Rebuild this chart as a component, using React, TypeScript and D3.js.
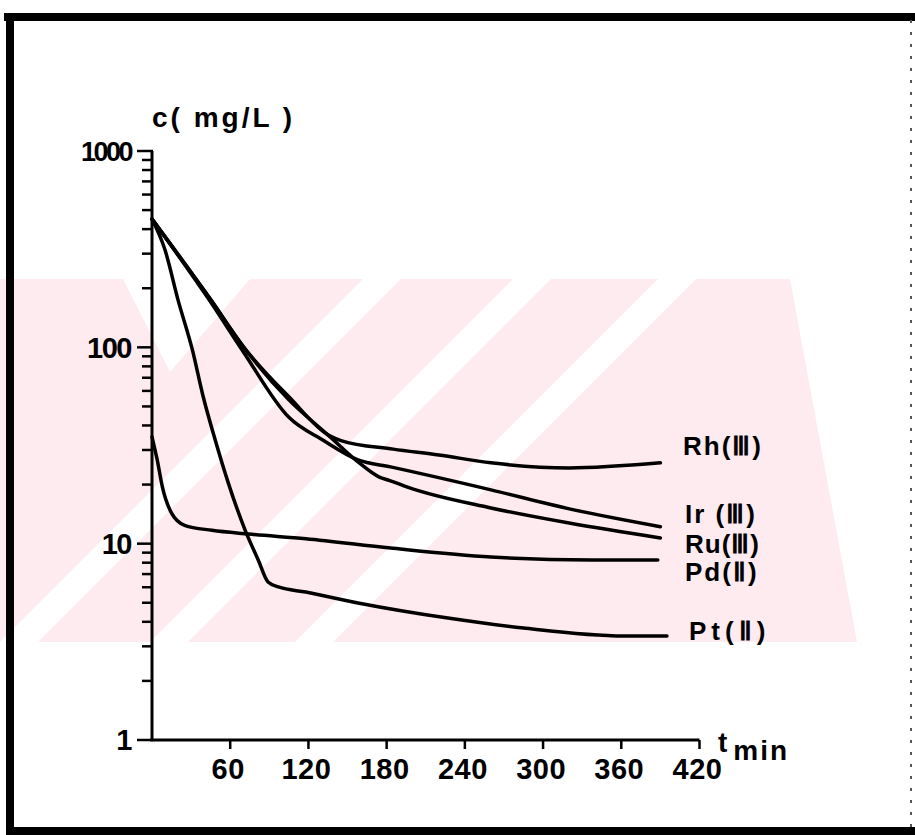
import React from 'react';
import * as d3 from 'd3';

const W = 915;
const H = 835;

// x axis (time, min)
const xTicks = [60, 120, 180, 240, 300, 360, 420];
// y axis (concentration, mg/L, log scale)
const yMajor = [1, 10, 100, 1000];
const yDecades = [1, 10, 100];

// series (t in min, c in mg/L)
const rhT = [0, 45, 70, 105, 136, 145, 185, 220, 260, 320, 390];
const rhC = [450, 175, 101, 56, 35.5, 33.5, 30.3, 28.3, 25.8, 24.3, 25.8];

const irT = [0, 45, 70, 105, 131, 158, 183, 260, 321, 390];
const irC = [450, 170, 95, 44, 33.7, 26.7, 24.6, 18.8, 15.0, 12.2];

const ruT = [0, 45, 70, 105, 135, 158, 174, 183, 196, 260, 321, 390];
const ruC = [450, 175, 101, 54, 35.8, 26.1, 21.9, 20.9, 19.4, 15.2, 12.7, 10.7];

const pdT = [0, 4, 8, 15, 25, 46, 74, 118, 183, 260, 337, 388];
const pdC = [35, 26.7, 19.4, 14.3, 12.4, 11.7, 11.2, 10.6, 9.5, 8.55, 8.26, 8.26];

const ptT = [0, 10, 20, 31, 39, 48.5, 58.5, 71.5, 81.5, 89, 97, 118, 158, 227, 285, 362, 395];
const ptC = [450, 313, 174, 97, 57, 33.7, 20.4, 11.7, 8.26, 6.38, 6.02, 5.67, 4.99, 4.18, 3.72, 3.39, 3.39];

const seriesNames = ['Rh(Ⅲ)', 'Ir (Ⅲ)', 'Ru(Ⅲ)', 'Pd(Ⅱ)', 'Pt(Ⅱ)'];

const FONT = "'Liberation Sans', Arial, sans-serif";
const PINK = '#fdebef';

export default function App() {
  const x = d3.scaleLinear().domain([0, 420]).range([152, 699.5]);
  const y = d3.scaleLog().domain([1, 1000]).range([740, 151]);

  const line = d3
    .line<[number, number]>()
    .x((d) => x(d[0]))
    .y((d) => y(d[1]))
    .curve(d3.curveMonotoneX);

  const series = [
    { name: seriesNames[0], t: rhT, c: rhC, lx: 683, ly: 455, ls: 2 },
    { name: seriesNames[1], t: irT, c: irC, lx: 685, ly: 523, ls: 2 },
    { name: seriesNames[2], t: ruT, c: ruC, lx: 685, ly: 553, ls: 1 },
    { name: seriesNames[3], t: pdT, c: pdC, lx: 685, ly: 581, ls: 2 },
    { name: seriesNames[4], t: ptT, c: ptC, lx: 689, ly: 640, ls: 5 },
  ];

  const minor: number[] = [];
  yDecades.forEach((d) => {
    for (let k = 2; k <= 9; k++) minor.push(k * d);
  });

  const x0 = x(0);
  const yBase = y(1);

  // watermark band (light pink) with white diagonal stripes x+y = const
  const bandTop = 279;
  const bandBot = 642;
  const stripe = (a: number, b: number) =>
    `M${a - bandTop},${bandTop} L${b - bandTop},${bandTop} L${b - bandBot},${bandBot} L${a - bandBot},${bandBot} Z`;

  return (
    <svg
      width={W}
      height={H}
      style={{ position: 'absolute', left: 0, top: 0, display: 'block', background: '#fff' }}
    >
      <rect x={0} y={0} width={W} height={H} fill="#fff" />

      {/* watermark */}
      <defs>
        <clipPath id="band">
          <polygon points={`0,${bandTop} 790,${bandTop} 857,${bandBot} 0,${bandBot}`} />
        </clipPath>
      </defs>
      <g clipPath="url(#band)">
        <rect x={0} y={bandTop} width={860} height={bandBot - bandTop} fill={PINK} />
        <path d={stripe(642, 680)} fill="#fff" />
        <path d={stripe(792, 830)} fill="#fff" />
        <path d={stripe(937, 975)} fill="#fff" />
        <polygon points={`123,${bandTop} 250,${bandTop} 170,372`} fill="#fff" />
      </g>

      {/* frame */}
      <line x1={4} y1={17} x2={W} y2={17} stroke="#000" strokeWidth={8} />
      <line x1={10} y1={13} x2={10} y2={H} stroke="#000" strokeWidth={8} />
      <line x1={6} y1={831} x2={W} y2={831} stroke="#000" strokeWidth={8} />
      <line x1={911} y1={20} x2={911} y2={828} stroke="#555" strokeWidth={2} strokeDasharray="3 9" />

      {/* y axis */}
      <line x1={x0} y1={y(1000)} x2={x0} y2={yBase + 1} stroke="#000" strokeWidth={3} />
      {yMajor.map((v) => (
        <line key={'ym' + v} x1={137} x2={x0 + 1} y1={y(v)} y2={y(v)} stroke="#000" strokeWidth={2.5} />
      ))}
      {minor.map((v) => (
        <line key={'yn' + v} x1={142} x2={x0 + 1} y1={y(v)} y2={y(v)} stroke="#000" strokeWidth={2.5} />
      ))}
      {yMajor.map((v) => (
        <text
          key={'yl' + v}
          x={131}
          y={y(v)}
          dy="0.36em"
          textAnchor="end"
          fontFamily={FONT}
          fontWeight="bold"
          fontSize={v === 1000 ? 27 : 29}
          letterSpacing={v === 1000 ? -2.5 : -1.5}
        >
          {v}
        </text>
      ))}
      <text x={152} y={127} fontFamily={FONT} fontWeight="bold" fontSize={28} letterSpacing={3}>
        c( mg/L )
      </text>

      {/* x axis */}
      <line x1={x0 - 2} y1={yBase} x2={x(420)} y2={yBase} stroke="#000" strokeWidth={3} />
      {xTicks.map((v) => (
        <line key={'xt' + v} x1={x(v)} x2={x(v)} y1={yBase} y2={yBase + 9} stroke="#000" strokeWidth={2.5} />
      ))}
      {xTicks.map((v) => (
        <text
          key={'xl' + v}
          x={x(v) - 2}
          y={779}
          textAnchor="middle"
          fontFamily={FONT}
          fontWeight="bold"
          fontSize={29}
          letterSpacing={0.5}
        >
          {v}
        </text>
      ))}
      <text x={718} y={752} fontFamily={FONT} fontWeight="bold" fontSize={28}>
        t
        <tspan dx={6} dy={8} letterSpacing={2}>
          min
        </tspan>
      </text>

      {/* curves */}
      {series.map((s) => (
        <path
          key={s.name}
          d={line(s.t.map((t, i) => [t, s.c[i]] as [number, number])) || ''}
          fill="none"
          stroke="#000"
          strokeWidth={3.5}
          strokeLinecap="round"
          strokeLinejoin="round"
        />
      ))}
      {series.map((s) => (
        <text
          key={'lab' + s.name}
          x={s.lx}
          y={s.ly}
          fontFamily={FONT}
          fontWeight="bold"
          fontSize={26}
          letterSpacing={s.ls}
        >
          {s.name}
        </text>
      ))}
    </svg>
  );
}
